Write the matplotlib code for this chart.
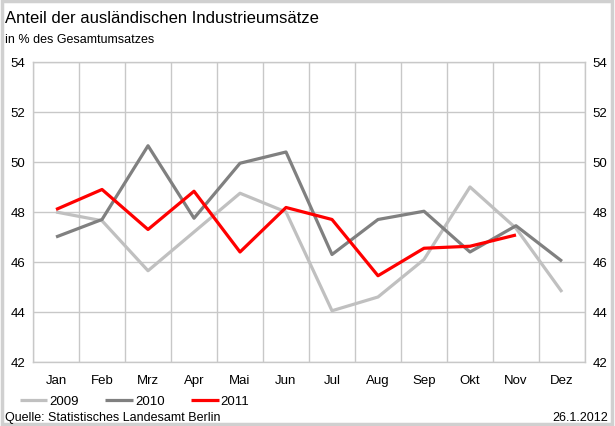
import matplotlib
matplotlib.use("Agg")
import matplotlib.pyplot as plt
from matplotlib.patches import Rectangle

plt.rcParams["font.family"] = ["Liberation Sans", "DejaVu Sans"]

months = ["Jan", "Feb", "Mrz", "Apr", "Mai", "Jun", "Jul", "Aug", "Sep", "Okt", "Nov", "Dez"]
y2009 = [48.0, 47.65, 45.65, 47.2, 48.75, 48.0, 44.05, 44.6, 46.1, 49.0, 47.35, 44.8]
y2010 = [47.0, 47.7, 50.65, 47.75, 49.95, 50.4, 46.3, 47.7, 48.03, 46.4, 47.45, 46.03]
y2011 = [48.1, 48.9, 47.3, 48.83, 46.4, 48.18, 47.7, 45.45, 46.55, 46.63, 47.08]
yticks = [42, 44, 46, 48, 50, 52, 54]

fig = plt.figure(figsize=(6.15, 4.27), dpi=100)
fig.patches.append(Rectangle((0.003, 0.005), 0.992, 0.99, transform=fig.transFigure,
                             fill=False, edgecolor="#d0d0d0", lw=2.5))

ax = fig.add_axes([0.0537, 0.1499, 0.8975, 0.7026])
grid_c = "#c8c8c8"
x = range(len(months))
ax.plot(x, y2009, color="#c0c0c0", lw=2.3, label="2009", solid_capstyle="butt")
ax.plot(x, y2010, color="#808080", lw=2.3, label="2010", solid_capstyle="butt")
ax.plot(range(len(y2011)), y2011, color="#ff0000", lw=2.3, label="2011", solid_capstyle="butt")

ax.set_xlim(-0.5, 11.5)
ax.set_ylim(42, 54)
ax.set_yticks(yticks)
for v in yticks:
    ax.axhline(v, color=grid_c, lw=1, zorder=0)
for b in range(13):
    ax.axvline(b - 0.5, color=grid_c, lw=1, zorder=0)
for s in ax.spines.values():
    s.set_color(grid_c)
    s.set_linewidth(1)

ax.set_xticks(list(x))
ax.set_xticklabels(months, fontsize=9.5)
ax.tick_params(axis="x", length=0, pad=9)
ax.tick_params(axis="y", length=0, labelsize=9.5, pad=11, labelright=True)
for t in ax.yaxis.get_major_ticks():
    t.label1.set_horizontalalignment("center")
    t.label2.set_horizontalalignment("center")

fig.text(0.008, 0.957, "Anteil der ausländischen Industrieumsätze", fontsize=12, va="center")
fig.text(0.008, 0.906, "in % des Gesamtumsatzes", fontsize=9, va="center")
fig.text(0.008, 0.022, "Quelle: Statistisches Landesamt Berlin", fontsize=9, va="center")
fig.text(0.988, 0.022, "26.1.2012", fontsize=9, va="center", ha="right")

fig.legend(loc="center left", bbox_to_anchor=(0.032, 0.058), ncol=3, frameon=False,
           fontsize=9.5, handlelength=2.1, handletextpad=0.15, columnspacing=2.0,
           borderaxespad=0, borderpad=0)

fig.savefig("out.png", dpi=100)
